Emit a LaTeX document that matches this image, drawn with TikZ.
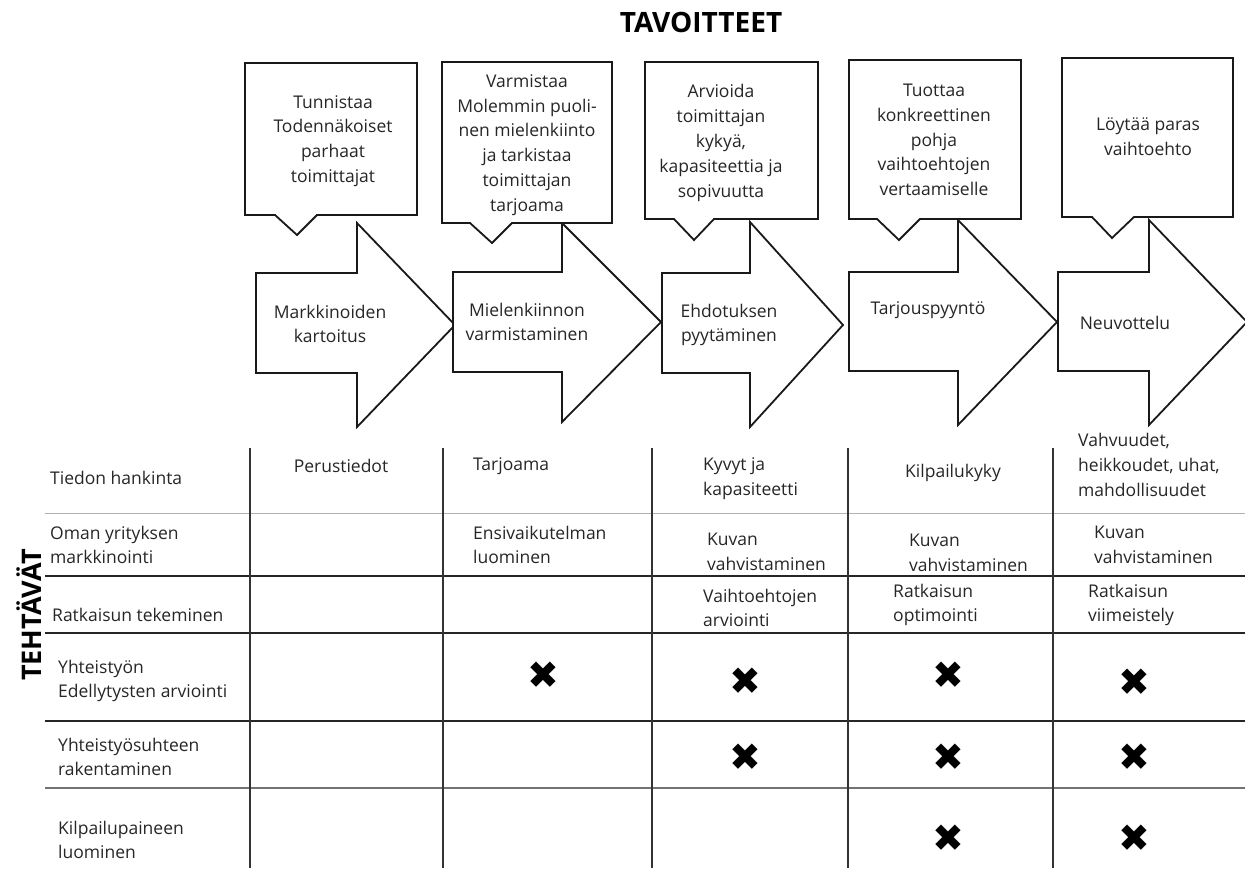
\documentclass[tikz,border=0pt]{standalone}
\usepackage{fontspec}
\setmainfont{Open Sans}
\newfontfamily\symfont{DejaVu Sans}
\begin{document}
\begin{tikzpicture}[x=1pt,y=-1pt,
  shape line/.style={draw=black!90,line width=1.8pt,fill=white,line join=miter},
  txt/.style={font=\fontsize{17.5}{24.8}\selectfont,text=black!85,inner sep=0pt},
  ctxt/.style={txt,align=center},
  ltxt/.style={txt,align=left,anchor=west},
  heading/.style={font=\bfseries\fontsize{28}{32}\selectfont,text=black,inner sep=0pt},
  crossmark/.style={font=\symfont\fontsize{38}{38}\selectfont,inner sep=0pt},
  grid dark/.style={draw=black!85,line width=1.4pt},
  grid light/.style={draw=black!30,line width=0.8pt},
  grid mid/.style={draw=black!55,line width=1.1pt},
  grid col/.style={draw=black!80,line width=1.2pt}]
\useasboundingbox (0,0) rectangle (1245,868);

% headings
\node[heading] (title) at (701,22) {TAVOITTEET};
\node[heading,font=\bfseries\fontsize{27}{30}\selectfont,rotate=90] (side) at (29,615) {TEHTÄVÄT};

% process arrows: left, rect top, rect bottom, head base, head top, head bottom, tip x, tip y
\foreach \l/\rt/\rb/\hx/\ht/\hb/\tx/\ty in {
  256/273/373/357/223/427/455/325,
  453/272/372/562/223/422/661/322,
  662/273/373/750/222/427/843/325,
  849/272/371/958/220/425/1057/322,
  1058/272/371/1149/220/425/1247/322}
  \draw[shape line] (\l,\rt) -- (\hx,\rt) -- (\hx,\ht) -- (\tx,\ty) -- (\hx,\hb) -- (\hx,\rb) -- (\l,\rb) -- cycle;

% goal callouts: left, right, top, bottom, tail left, apex x, apex y, tail right
\foreach \l/\r/\t/\b/\pa/\ax/\ay/\pb in {
  245/417/63/215/275/297/235/317,
  442/612/62/223/470/492/243/512,
  645/818/62/219/674/694/240/714,
  849/1021/60/219/877/899/240/920,
  1062/1233/58/217/1092/1112/238/1134}
  \draw[shape line] (\l,\t) -- (\r,\t) -- (\r,\b) -- (\pb,\b) -- (\ax,\ay) -- (\pa,\b) -- (\l,\b) -- cycle;

% callout texts
\node[ctxt] (g1) at (333,141) {Tunnistaa\\Todennäkoiset\\parhaat\\toimittajat};
\node[ctxt] (g2) at (527,145) {Varmistaa\\Molemmin puoli-\\nen mielenkiinto\\ja tarkistaa\\toimittajan\\tarjoama};
\node[ctxt] (g3) at (721,143) {Arvioida\\toimittajan\\kykyä,\\kapasiteettia ja\\sopivuutta};
\node[ctxt] (g4) at (934,140) {Tuottaa\\konkreettinen\\pohja\\vaihtoehtojen\\vertaamiselle};
\node[ctxt] (g5) at (1148,137) {Löytää paras\\vaihtoehto};

% arrow texts
\node[ctxt] (p1) at (330,324) {Markkinoiden\\kartoitus};
\node[ctxt] (p2) at (527,322) {Mielenkiinnon\\varmistaminen};
\node[ctxt] (p3) at (729,325) {Ehdotuksen\\pyytäminen};
\node[ctxt] (p4) at (928,310) {Tarjouspyyntö};
\node[ctxt] (p5) at (1125,323) {Neuvottelu};

% table grid
\draw[grid light] (45,513) -- (1245,513);
\draw[grid dark] (45,576) -- (1245,576);
\draw[grid dark] (45,633) -- (1245,633);
\draw[grid dark] (45,721) -- (1245,721);
\draw[grid mid] (45,788) -- (1245,788);
\foreach \x in {250,443,652,848,1053}
  \draw[grid col] (\x,448) -- (\x,868);

% row labels
\node[ltxt] (r1) at (50,478) {Tiedon hankinta};
\node[ltxt] (r2) at (50,545) {Oman yrityksen\\markkinointi};
\node[ltxt] (r3) at (52,615) {Ratkaisun tekeminen};
\node[ltxt] (r4) at (58,681) {Yhteistyön\\Edellytysten arviointi};
\node[ltxt] (r5) at (58,757) {Yhteistyösuhteen\\rakentaminen};
\node[ltxt] (r6) at (58,840) {Kilpailupaineen\\luominen};

% cell texts
\node[ctxt] (c11) at (341,466) {Perustiedot};
\node[ltxt] (c21) at (473,466) {Tarjoama};
\node[ltxt] (c22) at (473,545) {Ensivaikutelman\\luominen};
\node[ltxt] (c31) at (703,479) {Kyvyt ja\\kapasiteetti};
\node[ltxt] (c32) at (707,552) {Kuvan\\vahvistaminen};
\node[ltxt] (c33) at (703,608) {Vaihtoehtojen\\arviointi};
\node[ltxt] (c41) at (905,473) {Kilpailukyky};
\node[ltxt] (c42) at (909,553) {Kuvan\\vahvistaminen};
\node[ltxt] (c43) at (893,605) {Ratkaisun\\optimointi};
\node[ltxt] (c51) at (1078,465) {Vahvuudet,\\heikkoudet, uhat,\\mahdollisuudet};
\node[ltxt] (c52) at (1094,545) {Kuvan\\vahvistaminen};
\node[ltxt] (c53) at (1088,605) {Ratkaisun\\viimeistely};

% crosses
\foreach \n/\x/\y in {x24/543/675, x34/745/681, x44/948/675, x54/1134/682,
                      x35/745/757, x45/948/757, x55/1134/757,
                      x46/948/838, x56/1134/838}
  \node[crossmark] (\n) at (\x,\y) {✖};
\end{tikzpicture}
\end{document}
